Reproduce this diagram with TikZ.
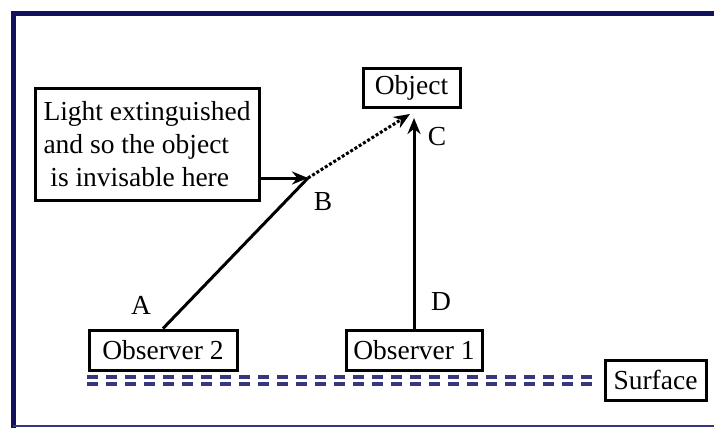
\documentclass[tikz,border=0pt]{standalone}
\usepackage{fontspec}
\setmainfont{Liberation Serif}
\usetikzlibrary{arrows.meta}
\definecolor{framenavy}{RGB}{18,18,92}
\definecolor{surfnavy}{RGB}{55,55,125}

\begin{document}
\begin{tikzpicture}[x=1pt, y=-1pt,
    labelbox/.style={draw, line width=3pt, inner sep=0pt, align=center,
        font=\fontsize{27.5}{33}\selectfont},
    ray/.style={line width=3pt, -{Stealth[length=16pt, width=13pt]}},
    pointlabel/.style={font=\fontsize{27.5}{30}\selectfont}]
    \useasboundingbox (0,0) rectangle (714,428);

    % frame
    \draw[framenavy, line width=5pt] (13,428) -- (13,14) -- (714,14);
    \draw[surfnavy, line width=2pt] (13,426) -- (714,426);

    % boxes
    \node[labelbox, minimum width=97pt, minimum height=39pt] (object) at (411.5,87.5) {Object};
    \node[labelbox, minimum width=224pt, minimum height=112pt, align=left] (light) at (147,144)
        {Light extinguished\\and so the object\\\ is invisable here};
    \node[labelbox, minimum width=148pt, minimum height=40pt] (obs2) at (163,350) {Observer 2};
    \node[labelbox, minimum width=136pt, minimum height=40pt] (obs1) at (414,350) {Observer 1};
    \node[labelbox, minimum width=101pt, minimum height=40pt] (surface) at (655.5,380) {Surface};

    % surface line
    \draw[surfnavy, line width=3.2pt, dash pattern=on 11pt off 8pt] (87,377) -- (592,377);
    \draw[surfnavy, line width=3.2pt, dash pattern=on 11pt off 8pt] (87,384) -- (592,384);

    % rays
    \coordinate (B) at (308,178);
    \coordinate (Atop) at (410,114);
    \draw[line width=3pt] (obs2.north) -- (B);
    \draw[ray, dotted] (B) -- (Atop);
    \draw[ray] (light.east |- B) -- (B);
    \draw[ray] (obs1.north) -- (obs1.north |- 0,118);

    % point labels
    \node[pointlabel] (lA) at (141,305) {A};
    \node[pointlabel] (lB) at (323,202) {B};
    \node[pointlabel] (lC) at (437,137) {C};
    \node[pointlabel] (lD) at (441,302) {D};
\end{tikzpicture}
\end{document}
